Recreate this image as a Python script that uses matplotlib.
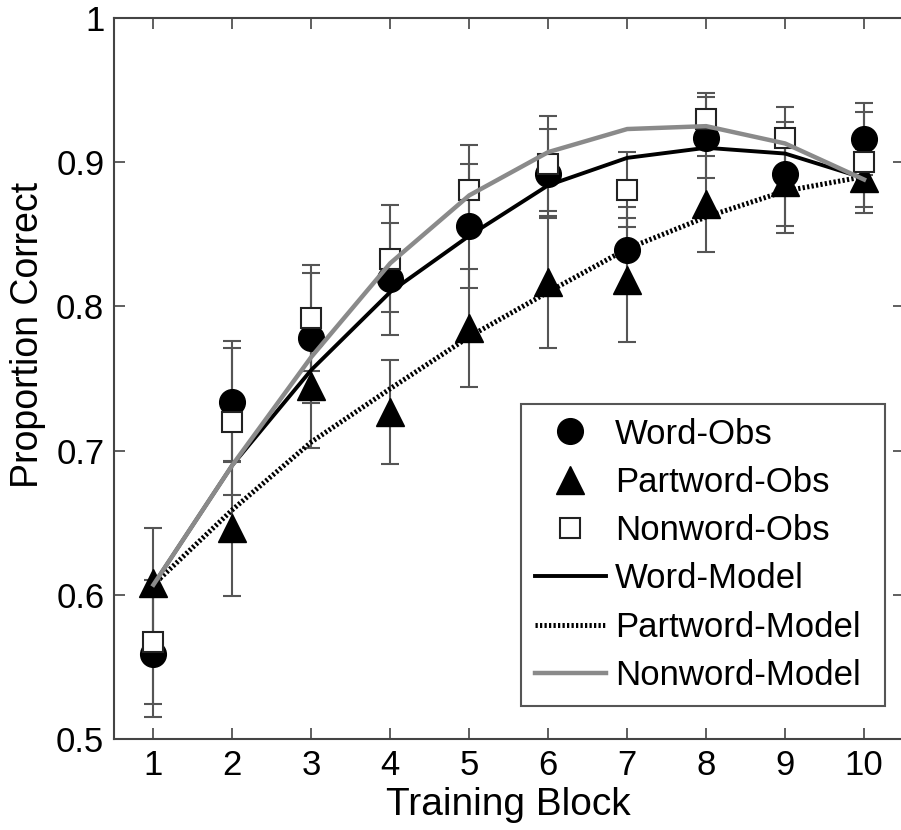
import numpy as np
import matplotlib.pyplot as plt

plt.rcParams['font.family'] = ['Liberation Sans', 'DejaVu Sans']

# data
blocks = np.arange(1, 11)

word_obs = [0.559, 0.734, 0.778, 0.819, 0.856, 0.892, 0.839, 0.917, 0.892, 0.916]
word_err = [0.044, 0.042, 0.045, 0.039, 0.043, 0.031, 0.030, 0.028, 0.036, 0.025]

part_obs = [0.608, 0.646, 0.745, 0.727, 0.785, 0.817, 0.818, 0.871, 0.886, 0.889]
part_err = [0.038, 0.047, 0.043, 0.036, 0.041, 0.046, 0.043, 0.033, 0.035, 0.020]

non_obs = [0.567, 0.720, 0.792, 0.833, 0.881, 0.899, 0.881, 0.930, 0.917, 0.900]
non_err = [0.043, 0.051, 0.037, 0.037, 0.031, 0.033, 0.026, 0.018, 0.021, 0.035]

word_model = [0.607, 0.690, 0.756, 0.810, 0.849, 0.884, 0.903, 0.910, 0.906, 0.889]
part_model = [0.607, 0.659, 0.706, 0.743, 0.779, 0.810, 0.840, 0.862, 0.880, 0.890]
non_model = [0.607, 0.690, 0.765, 0.830, 0.877, 0.907, 0.923, 0.925, 0.913, 0.888]

fig = plt.figure(figsize=(9.01, 8.3), dpi=100)
ax = fig.add_axes([114/901, 91/830, 789.5/901, 721/830])

bar_kw = dict(fmt='none', ecolor='#555555', elinewidth=1.5, capsize=6.5, capthick=1.5, zorder=1)
ax.errorbar(blocks, word_obs, yerr=word_err, **bar_kw)
ax.errorbar(blocks, part_obs, yerr=part_err, **bar_kw)
ax.errorbar(blocks, non_obs, yerr=non_err, **bar_kw)

ax.plot(blocks, word_obs, 'o', color='black', markersize=18.5, linestyle='none',
        label='Word-Obs', zorder=3)
ax.plot(blocks, part_obs, '^', color='black', markersize=19.5, linestyle='none',
        label='Partword-Obs', zorder=3)
ax.plot(blocks, non_obs, 's', markerfacecolor='white', markeredgecolor='#222222',
        markeredgewidth=1.5, markersize=14.5, linestyle='none', label='Nonword-Obs', zorder=3)

ax.plot(blocks, word_model, '-', color='black', linewidth=2.8, label='Word-Model', zorder=4)
ax.plot(blocks, part_model, color='black', linewidth=3.6, linestyle=(0, (0.45, 0.45)),
        label='Partword-Model', zorder=4)
ax.plot(blocks, non_model, '-', color='#8a8a8a', linewidth=3.2, label='Nonword-Model', zorder=4)

ax.set_xlim(0.5, 10.5)
ax.set_ylim(0.5, 1.0)
ax.set_xticks(blocks)
ax.set_yticks([0.5, 0.6, 0.7, 0.8, 0.9, 1.0])
ax.set_yticklabels(['0.5', '0.6', '0.7', '0.8', '0.9', '1'])
ax.tick_params(direction='in', length=8, width=1.2, color='#444444',
               top=True, right=True, labelsize=25, pad=7)
for s in ax.spines.values():
    s.set_color('#444444')
    s.set_linewidth(1.5)

ax.set_xlabel('Training Block', fontsize=28, labelpad=4)
ax.set_ylabel('Proportion Correct', fontsize=27)
ax.yaxis.set_label_coords(-0.086, 0.56)

leg = ax.legend(loc='lower left', bbox_to_anchor=(0.5155, 0.046, 0.461, 0.413),
                mode='expand', fontsize=25, fancybox=False, framealpha=1,
                edgecolor='#555555', handlelength=2.05, handletextpad=0.26,
                labelspacing=0.44, borderaxespad=0, borderpad=0.4)
leg.get_frame().set_linewidth(1.5)

fig.savefig('out.png', dpi=100)
